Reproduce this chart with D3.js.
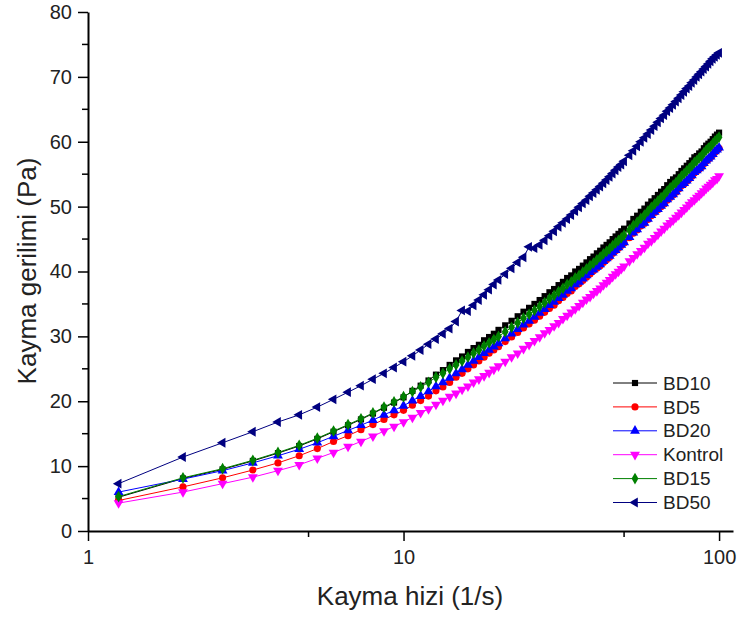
<!DOCTYPE html>
<html>
<head>
<meta charset="utf-8">
<script src="https://cdn.jsdelivr.net/npm/d3@7"></script>
<style>
  body { margin: 0; background: #fff; }
  text { font-family: "Liberation Sans", Arial, sans-serif; fill: #222; }
</style>
</head>
<body>
<script>
// shear rate (1/s)
const rate = [1.25, 2, 2.67, 3.33, 4, 4.67, 5.33, 6, 6.67, 7.33,
  8, 8.67, 9.33, 10, 10.67, 11.33, 12, 12.67, 13.33, 14,
  14.67, 15.33, 16, 16.67, 17.33, 18, 18.67, 19.33, 20,
  21, 22, 23, 24, 25, 26, 27, 28, 29, 30,
  31, 32, 33, 34, 35, 36, 37, 38, 39, 40,
  41, 42, 43, 44, 45, 46, 47, 48, 49, 50,
  52, 53.5, 55, 56.5, 58, 59.5, 61, 62.5, 64, 65.5,
  67, 68.5, 70, 71.5, 73, 74.5, 76, 77.5, 79, 80.5,
  82, 83.5, 85, 86.5, 88, 89.5, 91, 92.5, 94, 95.5,
  97, 98.5, 100]

// shear stress (Pa)
const bd10 = [5.2, 8.1, 9.5, 10.8, 12.0, 13.1, 14.2, 15.3, 16.3, 17.2,
  18.1, 19.0, 19.8, 20.6, 21.6, 22.4, 23.2, 24.1, 24.8, 25.6,
  26.3, 26.9, 27.6, 28.2, 28.7, 29.4, 29.9, 30.4, 31.0,
  31.7, 32.4, 33.1, 33.8, 34.4, 35.0, 35.6, 36.2, 36.8, 37.3,
  37.9, 38.4, 39.0, 39.4, 40.0, 40.4, 40.9, 41.4, 41.9, 42.3,
  42.8, 43.2, 43.7, 44.1, 44.5, 45.0, 45.4, 45.8, 46.2, 46.6,
  47.4, 48.1, 48.6, 49.2, 49.7, 50.3, 50.8, 51.3, 51.8, 52.3,
  52.7, 53.3, 53.8, 54.2, 54.5, 55.0, 55.5, 55.9, 56.3, 56.7,
  57.1, 57.6, 57.8, 58.2, 58.5, 59.0, 59.4, 59.7, 60.0, 60.4,
  60.8, 61.1, 61.4]
const bd5 = [4.7, 6.8, 8.2, 9.4, 10.5, 11.6, 12.7, 13.8, 14.7, 15.6,
  16.4, 17.2, 17.9, 18.6, 19.4, 20.1, 20.8, 21.6, 22.2, 22.9,
  23.7, 24.3, 25.0, 25.6, 26.2, 26.8, 27.4, 27.9, 28.4,
  29.2, 29.9, 30.6, 31.3, 31.9, 32.5, 33.1, 33.7, 34.3, 34.8,
  35.5, 36.0, 36.6, 37.0, 37.7, 38.1, 38.6, 39.1, 39.6, 40.1,
  40.5, 40.9, 41.4, 41.8, 42.2, 42.8, 43.2, 43.6, 44.0, 44.4,
  45.2, 45.9, 46.4, 47.0, 47.4, 48.0, 48.6, 49.1, 49.5, 50.0,
  50.4, 51.0, 51.4, 51.8, 52.2, 52.7, 53.2, 53.5, 53.9, 54.3,
  54.7, 55.2, 55.5, 55.8, 56.1, 56.6, 57.0, 57.3, 57.6, 58.0,
  58.4, 58.7, 59.0]
const bd20 = [6.0, 8.0, 9.3, 10.5, 11.6, 12.6, 13.6, 14.6, 15.5, 16.3,
  17.1, 17.9, 18.6, 19.3, 20.1, 20.8, 21.5, 22.3, 22.9, 23.6,
  24.3, 24.9, 25.6, 26.2, 26.8, 27.4, 27.9, 28.4, 28.9,
  29.7, 30.4, 31.1, 31.8, 32.4, 33.0, 33.6, 34.2, 34.8, 35.3,
  35.9, 36.4, 37.0, 37.4, 38.0, 38.4, 38.9, 39.4, 39.9, 40.3,
  40.7, 41.1, 41.6, 42.0, 42.4, 42.9, 43.3, 43.7, 44.1, 44.5,
  45.3, 46.0, 46.5, 47.1, 47.5, 48.1, 48.7, 49.2, 49.6, 50.1,
  50.5, 51.1, 51.5, 51.9, 52.3, 52.8, 53.3, 53.6, 54.0, 54.4,
  54.8, 55.3, 55.6, 55.9, 56.2, 56.7, 57.1, 57.4, 57.7, 58.1,
  58.5, 58.8, 59.1]
const kontrol = [4.3, 6.0, 7.3, 8.3, 9.3, 10.2, 11.2, 12.1, 13.0, 13.8,
  14.6, 15.4, 16.1, 16.8, 17.5, 18.2, 18.8, 19.5, 20.1, 20.7,
  21.2, 21.8, 22.3, 22.9, 23.4, 23.9, 24.4, 24.9, 25.4,
  26.1, 26.8, 27.4, 28.1, 28.7, 29.3, 29.9, 30.5, 31.0, 31.6,
  32.1, 32.7, 33.2, 33.7, 34.2, 34.7, 35.2, 35.7, 36.1, 36.6,
  37.0, 37.4, 37.9, 38.3, 38.7, 39.2, 39.6, 40.0, 40.4, 40.8,
  41.6, 42.1, 42.7, 43.2, 43.7, 44.3, 44.7, 45.2, 45.7, 46.2,
  46.6, 47.1, 47.5, 47.9, 48.3, 48.7, 49.1, 49.5, 49.9, 50.3,
  50.7, 51.0, 51.4, 51.7, 52.1, 52.4, 52.8, 53.1, 53.4, 53.7,
  54.1, 54.3, 54.7]
const bd15 = [5.3, 8.2, 9.6, 10.9, 12.1, 13.2, 14.3, 15.4, 16.4, 17.3,
  18.2, 19.1, 19.9, 20.7, 21.5, 22.2, 22.9, 23.7, 24.3, 25.0,
  25.6, 26.2, 26.8, 27.4, 27.9, 28.5, 29.0, 29.5, 30.0,
  30.7, 31.4, 32.1, 32.8, 33.4, 34.0, 34.6, 35.2, 35.8, 36.3,
  36.9, 37.4, 38.0, 38.4, 39.0, 39.4, 39.9, 40.4, 40.9, 41.3,
  41.8, 42.2, 42.7, 43.1, 43.5, 44.0, 44.4, 44.8, 45.2, 45.6,
  46.4, 47.1, 47.6, 48.2, 48.7, 49.3, 49.9, 50.4, 50.9, 51.4,
  51.8, 52.4, 52.9, 53.3, 53.7, 54.2, 54.7, 55.1, 55.5, 55.9,
  56.3, 56.8, 57.1, 57.5, 57.8, 58.3, 58.7, 59.0, 59.3, 59.7,
  60.1, 60.4, 60.7]
const bd50 = [7.3, 11.4, 13.6, 15.3, 16.8, 17.9, 19.1, 20.3, 21.4, 22.4,
  23.4, 24.3, 25.2, 26.1, 27.0, 27.9, 28.8, 29.6, 30.4, 31.2,
  32.3, 34.0, 33.9, 34.8, 35.6, 36.4, 37.2, 38.0, 38.7,
  39.6, 40.5, 41.4, 42.2, 43.8, 43.6, 44.1, 44.8, 45.5, 46.2,
  46.9, 47.5, 48.1, 48.7, 49.3, 49.9, 50.5, 51.0, 51.6, 52.1,
  52.6, 53.1, 53.6, 54.1, 54.6, 55.1, 55.6, 56.1, 56.5, 57.0,
  57.9, 58.6, 59.3, 60.0, 60.6, 61.2, 61.8, 62.4, 63.0, 63.6,
  64.1, 64.7, 65.2, 65.7, 66.2, 66.7, 67.2, 67.7, 68.2, 68.6,
  69.1, 69.5, 70.0, 70.4, 70.8, 71.2, 71.6, 72.0, 72.4, 72.8,
  73.1, 73.4, 73.7]

const names = ["BD10", "BD5", "BD20", "Kontrol", "BD15", "BD50"]
const colors = ["#000000", "#ff0000", "#0000ff", "#ff00ff", "#008000", "#000080"]
const xTicks = [1, 10, 100]
const xMinor = [5, 50]
const yTicks = [0, 10, 20, 30, 40, 50, 60, 70, 80]
const yMinor = [5, 15, 25, 35, 45, 55, 65, 75]
const seriesVals = [bd10, bd5, bd20, kontrol, bd15, bd50]

width = 737
height = 618

// marker shape per series
shapes = [
  {type: d3.symbolSquare, size: 38, rot: 0},
  {type: d3.symbolCircle, size: 40, rot: 0},
  {type: d3.symbolTriangle, size: 42, rot: 0},
  {type: d3.symbolTriangle, size: 42, rot: 180},
  {type: d3.symbolDiamond, size: 40, rot: 0},
  {type: d3.symbolTriangle, size: 42, rot: -90}
]

svg = d3.select("body")
    .append("svg")
    .attr("width", width)
    .attr("height", height)

x = d3.scaleLog().domain([1, 110.7]).range([88, 733])
y = d3.scaleLinear().domain([0, 80]).range([531, 12])

// series
names.forEach(function(name, s) {
    let pts = rate.map((r, i) => ({x: r, y: seriesVals[s][i]}))
    let g = svg.append("g").attr("class", "series")
    g.append("path")
        .datum(pts)
        .attr("fill", "none")
        .attr("stroke", colors[s])
        .attr("stroke-width", 1)
        .attr("d", d3.line().x(d => x(d.x)).y(d => y(d.y)))
    let sym = d3.symbol().type(shapes[s].type).size(shapes[s].size)
    g.selectAll("path.pt")
        .data(pts)
        .enter()
        .append("path")
        .attr("class", "pt")
        .attr("d", sym)
        .attr("transform", d => "translate(" + x(d.x) + "," + y(d.y) + ") rotate(" + shapes[s].rot + ")")
        .attr("fill", colors[s])
})

// axes
xAxis = svg.append("g")
    .attr("transform", "translate(0,531)")
    .call(d3.axisBottom(x).tickValues(xTicks).tickFormat(d3.format("d")).tickSize(10).tickSizeOuter(0).tickPadding(9))
xAxis.select(".domain").attr("stroke-width", 2)
xAxis.selectAll(".tick line").attr("stroke-width", 1.5)
xAxis.selectAll("text").style("font-size", "20px").attr("fill", "#222")
xAxis.selectAll("line.minor")
    .data(xMinor)
    .enter()
    .append("line")
    .attr("class", "minor")
    .attr("x1", d => x(d)).attr("x2", d => x(d))
    .attr("y1", 0).attr("y2", 6)
    .attr("stroke", "#000").attr("stroke-width", 1.5)

yAxis = svg.append("g")
    .attr("transform", "translate(88,0)")
    .call(d3.axisLeft(y).tickValues(yTicks).tickSize(10).tickSizeOuter(0).tickPadding(6))
yAxis.select(".domain").attr("stroke-width", 2)
yAxis.selectAll(".tick line").attr("stroke-width", 1.5)
yAxis.selectAll("text").style("font-size", "20px").attr("fill", "#222")
yAxis.selectAll("line.minor")
    .data(yMinor)
    .enter()
    .append("line")
    .attr("class", "minor")
    .attr("x1", 0).attr("x2", -6)
    .attr("y1", d => y(d)).attr("y2", d => y(d))
    .attr("stroke", "#000").attr("stroke-width", 1.5)

// axis titles
svg.append("text")
    .attr("x", 410)
    .attr("y", 605)
    .attr("text-anchor", "middle")
    .style("font-size", "26px")
    .text("Kayma hizi (1/s)")
svg.append("text")
    .attr("transform", "translate(36,271) rotate(-90)")
    .attr("text-anchor", "middle")
    .style("font-size", "26px")
    .text("Kayma gerilimi (Pa)")

// legend
legend = svg.append("g").attr("transform", "translate(613,383)")
names.forEach(function(name, s) {
    let row = legend.append("g").attr("transform", "translate(0," + (s * 23.9) + ")")
    row.append("line")
        .attr("x1", 0).attr("x2", 44)
        .attr("stroke", colors[s]).attr("stroke-width", 1)
    row.append("path")
        .attr("d", d3.symbol().type(shapes[s].type).size(shapes[s].size))
        .attr("transform", "translate(22,0) rotate(" + shapes[s].rot + ")")
        .attr("fill", colors[s])
    row.append("text")
        .attr("x", 50)
        .attr("dy", "0.35em")
        .style("font-size", "19px")
        .text(name)
})
</script>
</body>
</html>
